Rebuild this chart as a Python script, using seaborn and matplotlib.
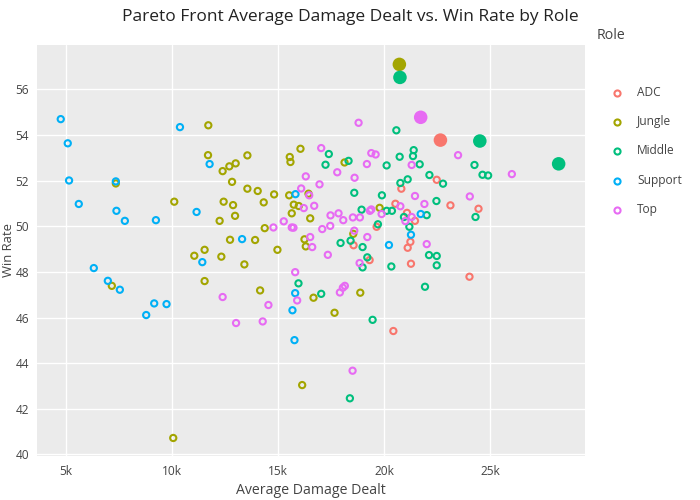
import numpy as np
import pandas as pd
import matplotlib
matplotlib.use("Agg")
import matplotlib.pyplot as plt
import seaborn as sns
from matplotlib.lines import Line2D
from matplotlib.ticker import FuncFormatter, FixedLocator

roles = ["ADC", "Jungle", "Middle", "Support", "Top"]
palette = ["#F8766D", "#A3A500", "#00BF7D", "#00B0F6", "#E76BF3"]

adc_damage = [20800, 20520, 19305, 19635, 18549, 20424, 22468, 23114, 24436, 21066,
              21443, 21226, 21099, 21254, 24011]
adc_winrate = [51.65, 50.99, 48.52, 49.98, 49.17, 45.41, 52.04, 50.92, 50.77, 50.59,
               50.24, 49.32, 49.06, 48.36, 47.79]

jungle_damage = [11704, 11690, 10099, 7346, 11529, 11043, 12318, 7157, 11529, 10051,
                 16047, 13545, 15542, 15575, 12379, 12695, 12993, 18124, 12823, 13545,
                 14031, 14805, 15514, 16425, 12426, 12870, 14315, 15731, 15967, 19777,
                 12237, 12964, 15636, 16505, 14362, 18535, 12728, 13909, 16236, 16297,
                 14961, 13403, 14145, 16661, 18865, 17652, 16127]
jungle_winrate = [54.43, 53.12, 51.08, 51.88, 48.97, 48.71, 48.67, 47.39, 47.60, 40.72,
                  53.40, 53.11, 53.04, 52.82, 52.42, 52.63, 52.76, 52.80, 51.95, 51.65,
                  51.55, 51.40, 51.36, 51.43, 51.08, 50.93, 51.05, 50.95, 50.89, 50.81,
                  50.24, 50.46, 50.57, 50.35, 49.92, 49.67, 49.41, 49.40, 49.43, 49.12,
                  48.97, 48.33, 47.19, 46.87, 47.09, 46.21, 43.04]

middle_damage = [20565, 17383, 20721, 21382, 21349, 17227, 18313, 20107, 21665, 24247,
                 22123, 24625, 24890, 21099, 20754, 22765, 18582, 19885, 22454, 18927,
                 20107, 20357, 21996, 20924, 24295, 19697, 21179, 17936, 18408, 18974,
                 19196, 22104, 22468, 18974, 20329, 22468, 21915, 15953, 17024, 19446,
                 18375]
middle_winrate = [54.21, 53.17, 53.05, 53.34, 53.08, 52.70, 52.87, 52.67, 52.72, 52.69,
                  52.25, 52.26, 52.23, 52.06, 51.90, 51.87, 51.47, 51.36, 51.11, 50.73,
                  50.68, 50.68, 50.49, 50.41, 50.41, 50.09, 49.98, 49.27, 49.37, 49.09,
                  48.64, 48.74, 48.70, 48.20, 48.24, 48.29, 47.35, 47.50, 47.04, 45.90,
                  42.46]

support_damage = [4750, 10368, 5080, 11765, 5142, 7346, 5600, 7375, 11151, 7771,
                  9235, 11421, 6308, 6969, 7535, 9154, 9735, 8777, 15811, 13295,
                  15797, 15669, 15764, 20216, 21254, 21712]
support_winrate = [54.70, 54.35, 53.64, 52.73, 52.01, 51.97, 50.98, 50.68, 50.63, 50.24,
                   50.27, 48.43, 48.17, 47.61, 47.22, 46.62, 46.59, 46.11, 51.41, 49.44,
                   47.07, 46.32, 45.01, 49.18, 49.63, 50.54]

top_damage = [18785, 17024, 19385, 19588, 23473, 19177, 21287, 17780, 26008, 16297,
              18596, 16944, 16080, 16458, 21443, 24026, 16203, 16694, 20754, 21887,
              19319, 19385, 19871, 21287, 20990, 17463, 17841, 18063, 18516, 18847,
              15259, 14772, 15636, 15717, 17072, 17449, 18582, 16505, 19196, 16600,
              17336, 18833, 15797, 15891, 12379, 14536, 17903, 18044, 18138, 13012,
              14267, 18502, 21996]
top_winrate = [54.54, 53.43, 53.21, 53.15, 53.12, 52.73, 52.69, 52.37, 52.29, 52.19,
               52.13, 51.84, 51.66, 51.36, 51.33, 51.31, 50.80, 50.90, 50.88, 50.98,
               50.68, 50.74, 50.54, 50.41, 50.23, 50.48, 50.57, 50.27, 50.39, 50.39,
               50.22, 49.95, 49.95, 49.94, 49.88, 50.02, 49.81, 49.53, 49.53, 49.09,
               48.75, 48.39, 47.99, 46.75, 46.90, 46.55, 47.10, 47.31, 47.39, 45.76,
               45.83, 43.67, 49.22]

front_role = ["Jungle", "Middle", "Top", "ADC", "Middle", "Middle"]
front_damage = [20707, 20735, 21712, 22642, 24498, 28213]
front_winrate = [57.10, 56.53, 54.78, 53.78, 53.74, 52.74]

x_ticks = [5000, 10000, 15000, 20000, 25000]
y_ticks = [40, 42, 44, 46, 48, 50, 52, 54, 56]

# ---- build tables ----
series = {
    "ADC": (adc_damage, adc_winrate),
    "Jungle": (jungle_damage, jungle_winrate),
    "Middle": (middle_damage, middle_winrate),
    "Support": (support_damage, support_winrate),
    "Top": (top_damage, top_winrate),
}
frames = []
for r in roles:
    d, w = series[r]
    frames.append(pd.DataFrame({"Damage": d, "WinRate": w, "Role": r}))
df = pd.concat(frames, ignore_index=True)
front_df = pd.DataFrame({"Damage": front_damage, "WinRate": front_winrate, "Role": front_role})

sns.set_theme(style="white")
plt.rcParams["font.family"] = ["Open Sans", "DejaVu Sans"]
txt = "#444444"

fig = plt.figure(figsize=(7, 5), dpi=100)
ax = fig.add_axes([37 / 700, 1 - 456 / 500, 548 / 700, (456 - 45) / 500])
ax.set_facecolor("#EBEBEB")
for s in ax.spines.values():
    s.set_visible(False)
ax.spines["bottom"].set_position(("outward", 1.8))
ax.spines["left"].set_position(("outward", 1.8))

sns.scatterplot(data=df, x="Damage", y="WinRate", hue="Role", hue_order=roles,
                palette=palette, s=20, legend=False, ax=ax, zorder=3)
coll = ax.collections[-1]
fc = coll.get_facecolors()
coll.set_edgecolors(fc)
coll.set_facecolors("none")
coll.set_linewidths(1.5)

sns.scatterplot(data=front_df, x="Damage", y="WinRate", hue="Role", hue_order=roles,
                palette=palette, s=95, linewidth=0, legend=False, ax=ax, zorder=4)

ax.set_xlim(3631, 29455)
ax.set_ylim(39.93, 57.95)
ax.xaxis.set_major_locator(FixedLocator(x_ticks))
ax.yaxis.set_major_locator(FixedLocator(y_ticks))
ax.xaxis.set_major_formatter(FuncFormatter(lambda v, p: f"{int(v / 1000)}k"))
ax.grid(True, color="white", linewidth=1.0)
ax.set_axisbelow(True)
ax.tick_params(axis="both", which="major", length=2.5, width=0.8, color="#666666",
               labelsize=8.6, labelcolor=txt, pad=2.5)
ax.tick_params(axis="y", pad=1.5)
ax.set_xlabel("Average Damage Dealt", fontsize=10.2, color=txt)
ax.set_ylabel("Win Rate", fontsize=9.4, color=txt)
ax.xaxis.set_label_coords(274 / 548, -(490 - 456) / 411)
ax.yaxis.set_label_coords(-(37 - 8.8) / 548, 0.5)
ax.xaxis.label.set_verticalalignment("center")
ax.yaxis.label.set_verticalalignment("center")

fig.text(350 / 700, 1 - 17 / 500, "Pareto Front Average Damage Dealt vs. Win Rate by Role",
         ha="center", va="center", fontsize=12.5, color="#222222")

# legend
fig.text(597 / 700, 1 - 35 / 500, "Role", ha="left", va="center", fontsize=10.2, color=txt)
leg_y = [93, 122, 151, 180.5, 209.5]
for r, c, yy in zip(roles, palette, leg_y):
    fig.add_artist(Line2D([617 / 700], [1 - yy / 500], transform=fig.transFigure,
                          marker="o", markersize=4.4, markerfacecolor="none",
                          markeredgecolor=c, markeredgewidth=1.5, linestyle="none"))
    fig.text(637 / 700, 1 - yy / 500, r, ha="left", va="center", fontsize=8.6, color=txt)

fig.savefig("out.png", dpi=100)
